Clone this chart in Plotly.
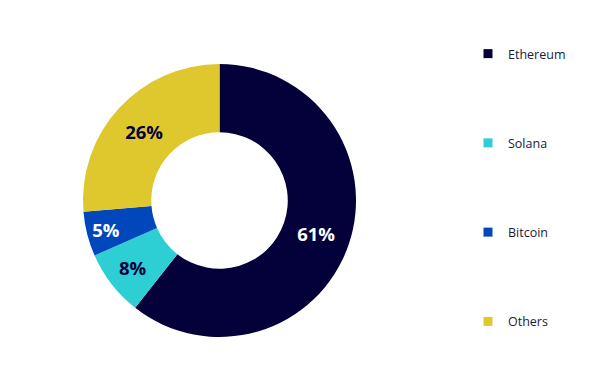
import plotly.graph_objects as go

categories = ["Ethereum", "Solana", "Bitcoin", "Others"]
values = [60.6, 7.8, 5.3, 26.3]
colors = ["#04003A", "#2ECFD4", "#0047BB", "#DEC82E"]
label_colors = ["#FFFFFF", "#04003A", "#FFFFFF", "#04003A"]
W, H = 605, 373

fig = go.Figure()
fig.add_trace(go.Pie(
    labels=categories, values=values, sort=False, direction="clockwise",
    rotation=0, hole=0.5,
    marker=dict(colors=colors, line=dict(width=0)),
    texttemplate="%{percent:.0%}", textposition="inside",
    insidetextorientation="horizontal",
    textfont=dict(family="Open Sans", size=18.5, color=label_colors, weight="bold"),
    showlegend=False, hoverinfo="label+percent",
    domain=dict(x=[(219.5 - 136.5) / W, (219.5 + 136.5) / W],
                y=[(H - 337) / H, (H - 64) / H]),
))
for i, (c, col) in enumerate(zip(categories, colors)):
    fig.add_trace(go.Scatter(
        x=[None], y=[None], mode="markers", name=c, legendgroup=c,
        marker=dict(symbol="square", size=9, color=col),
    ))

fig.update_layout(
    width=W, height=H, margin=dict(l=0, r=0, t=0, b=0),
    paper_bgcolor="white", plot_bgcolor="white",
    xaxis=dict(visible=False), yaxis=dict(visible=False),
    legend=dict(x=468 / W, y=1 - 39 / H, xanchor="left", yanchor="top",
                tracegroupgap=70, itemwidth=30,
                font=dict(family="Open Sans", size=12.5, color="#1A1A3A")),
)
fig.write_html("out.html")
